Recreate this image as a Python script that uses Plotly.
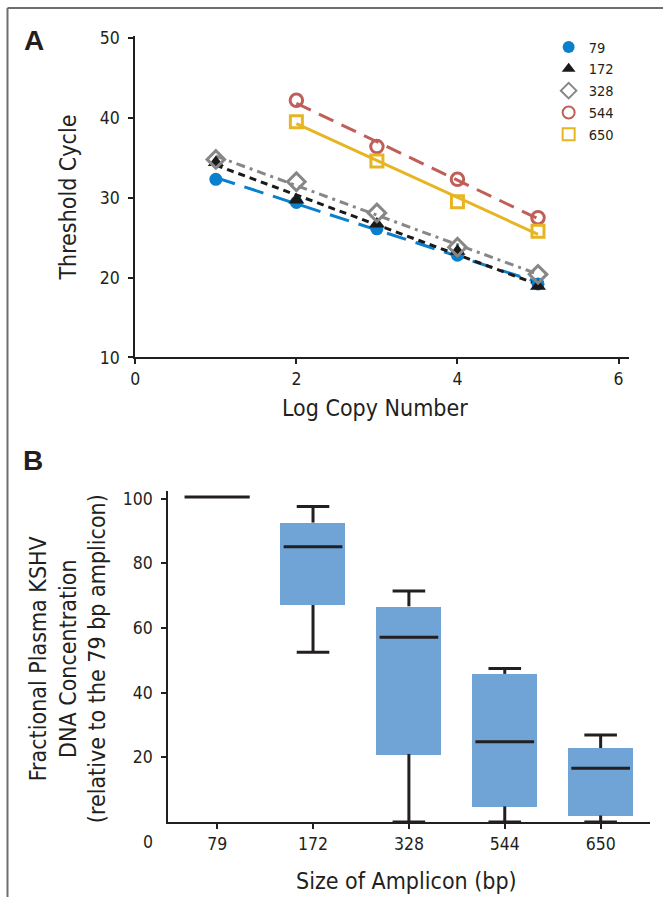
import numpy as np
import plotly.graph_objects as go

# ---------------- Data ----------------
# Panel A: threshold cycle vs log copy number
series_names = ["79", "172", "328", "544", "650"]
x_79 = [1, 2, 3, 4, 5]
y_79 = [32.3, 29.4, 26.1, 22.8, 19.2]
x_172 = [1, 2, 3, 4, 5]
y_172 = [34.4, 29.7, 26.7, 23.3, 18.9]
x_328 = [1, 2, 3, 4, 5]
y_328 = [34.8, 32.0, 28.1, 23.8, 20.4]
x_544 = [2, 3, 4, 5]
y_544 = [42.2, 36.4, 32.3, 27.5]
x_650 = [2, 3, 4, 5]
y_650 = [39.5, 34.6, 29.5, 25.8]

# Panel B: box summary per amplicon size
amplicons = ["79", "172", "328", "544", "650"]
lower_w = [100.5, 52.5, 0.0, 0.0, 0.0]
q1 = [100.5, 67.1, 21.0, 4.8, 2.0]
median = [100.5, 85.1, 57.1, 24.8, 16.6]
q3 = [100.5, 92.6, 66.7, 45.8, 22.9]
upper_w = [100.5, 97.6, 71.4, 47.5, 26.9]

A_xticks = [0, 2, 4, 6]
A_yticks = [10, 20, 30, 40, 50]
B_yticks = [20, 40, 60, 80, 100]

# ---------------- Styling ----------------
W, H = 663, 907

def px(x):
    return ((x - 3.5) / 0.994) / W
def py(y):
    return 1 - ((y - 7) / 0.979) / H

COND = "DejaVu Sans Condensed, Liberation Sans Narrow, Arial Narrow, sans-serif"
BOLD = "Liberation Sans, Arial, sans-serif"
INK = "#231f20"
CLEAR = "rgba(0,0,0,0)"

styles = {
    "79":  dict(color="#0a7fcc", dash="20px,10px", symbol="circle", fill="#0a7fcc", size=13, lw=0),
    "172": dict(color="#1a1a1a", dash="7px,5px", symbol="triangle-up", fill="#1a1a1a", size=14, lw=0),
    "328": dict(color="#878787", dash="9px,5px,3px,5px", symbol="diamond", fill=CLEAR, size=13.5, lw=3),
    "544": dict(color="#bf5f58", dash="16px,9px", symbol="circle", fill=CLEAR, size=12.5, lw=3),
    "650": dict(color="#e8b522", dash="solid", symbol="square", fill=CLEAR, size=12, lw=3),
}
data_A = {"79": (x_79, y_79), "172": (x_172, y_172), "328": (x_328, y_328),
          "544": (x_544, y_544), "650": (x_650, y_650)}

fig = go.Figure()

# fitted lines
for name in series_names:
    xs, ys = data_A[name]
    st = styles[name]
    k, b = np.polyfit(xs, ys, 1)
    xl = [min(xs), max(xs)]
    fig.add_trace(go.Scatter(x=xl, y=[k * v + b for v in xl], mode="lines",
                             line=dict(color=st["color"], width=3, dash=st["dash"]),
                             showlegend=False, hoverinfo="skip", xaxis="x", yaxis="y"))
# markers
for name in series_names:
    xs, ys = data_A[name]
    st = styles[name]
    fig.add_trace(go.Scatter(x=xs, y=ys, mode="markers", name=name,
                             marker=dict(symbol=st["symbol"], size=st["size"], color=st["fill"],
                                         line=dict(color=st["color"], width=st["lw"])),
                             xaxis="x", yaxis="y"))

# Panel B boxes as floating bars
idx = list(range(len(amplicons)))
BOXW = 0.68
fig.add_trace(go.Bar(x=idx, y=[b - a for a, b in zip(q1, q3)], base=q1, width=BOXW,
                     marker=dict(color="#70a4d6", line=dict(width=0)),
                     showlegend=False, hoverinfo="skip", xaxis="x2", yaxis="y2"))

# whiskers + caps
CAP = 0.17
wx, wy = [], []
for i in idx:
    if upper_w[i] > q3[i]:
        wx += [i, i, None, i - CAP, i + CAP, None]
        wy += [q3[i], upper_w[i], None, upper_w[i], upper_w[i], None]
    if lower_w[i] < q1[i]:
        wx += [i, i, None, i - CAP, i + CAP, None]
        wy += [q1[i], lower_w[i], None, lower_w[i], lower_w[i], None]
fig.add_trace(go.Scatter(x=wx, y=wy, mode="lines", line=dict(color=INK, width=3),
                         showlegend=False, hoverinfo="skip", xaxis="x2", yaxis="y2"))
# medians
mx, my = [], []
for i in idx:
    half = BOXW / 2 if q1[i] == q3[i] else BOXW * 0.45
    mx += [i - half, i + half, None]
    my += [median[i], median[i], None]
fig.add_trace(go.Scatter(x=mx, y=my, mode="lines", line=dict(color=INK, width=3),
                         showlegend=False, hoverinfo="skip", xaxis="x2", yaxis="y2"))

axis_common = dict(showline=True, linecolor=INK, linewidth=2, ticks="outside", ticklen=5,
                   tickwidth=1.5, tickcolor=INK, showgrid=False, zeroline=False,
                   tickfont=dict(family=COND, size=17.5, color=INK))

fig.update_layout(
    width=W, height=H, margin=dict(l=0, r=0, t=0, b=0),
    paper_bgcolor="white", plot_bgcolor="white",
    bargap=0,
    xaxis=dict(domain=[px(134), px(628)], range=[0, 6.124], tickvals=A_xticks,
               anchor="y", **axis_common),
    yaxis=dict(domain=[py(356), py(35)], range=[10, 50.25], tickvals=A_yticks,
               anchor="x", ticklabelstandoff=5, **axis_common),
    xaxis2=dict(domain=[px(167), px(650)], range=[-0.51, 4.52], tickvals=idx,
                ticktext=amplicons, anchor="y2", **axis_common),
    yaxis2=dict(domain=[py(820), py(489)], range=[0, 102.5], tickvals=B_yticks,
                anchor="x2", ticklabelstandoff=5, **axis_common),
    legend=dict(x=px(548), y=py(30), xanchor="left", yanchor="top",
                font=dict(family=COND, size=14.5, color=INK),
                bgcolor="rgba(0,0,0,0)", tracegroupgap=0, itemsizing="constant"),
    showlegend=True,
)

ann = [
    dict(text="<b>A</b>", x=px(33), y=py(39), font=dict(family=BOLD, size=28, color=INK)),
    dict(text="<b>B</b>", x=px(32), y=py(459), font=dict(family=BOLD, size=28, color=INK)),
    dict(text="Threshold Cycle", x=px(67), y=py(196), textangle=-90,
         font=dict(family=COND, size=23, color=INK)),
    dict(text="Log Copy Number", x=px(374), y=py(407),
         font=dict(family=COND, size=23, color=INK)),
    dict(text="Size of Amplicon (bp)", x=px(406), y=py(879),
         font=dict(family=COND, size=23, color=INK)),
    dict(text="Fractional Plasma KSHV<br>DNA Concentration<br>(relative to the 79 bp amplicon)",
         x=px(66), y=py(657), textangle=-90,
         font=dict(family=COND, size=23, color=INK)),
    dict(text="0", x=px(147), y=py(840), font=dict(family=COND, size=17.5, color=INK)),
]
for a in ann:
    a.update(xref="paper", yref="paper", showarrow=False, xanchor="center", yanchor="middle")
fig.update_layout(annotations=ann)

# figure frame (top and left rules)
fig.update_layout(shapes=[
    dict(type="line", xref="paper", yref="paper", x0=px(6), x1=1, y0=py(7), y1=py(7),
         line=dict(color="#6d6e71", width=2)),
    dict(type="line", xref="paper", yref="paper", x0=px(6), x1=px(6), y0=py(7), y1=0,
         line=dict(color="#6d6e71", width=2)),
])

fig.write_html("out.html", config={"displayModeBar": False},
               post_script="document.body.style.margin='0px';document.body.style.overflow='hidden';")
